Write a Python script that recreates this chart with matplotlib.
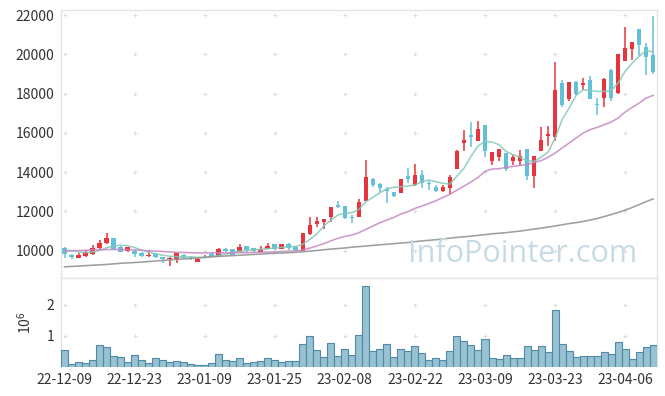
import numpy as np
import matplotlib
matplotlib.use("Agg")
import matplotlib.pyplot as plt

plt.rcParams['font.family'] = ['Noto Sans CJK KR', 'DejaVu Sans']

# 일봉 데이터 (2022-12-09 ~ 2023-04-12)
opens = [10154, 9781, 9645, 9747, 9815, 10120, 10375, 10663, 10205, 9985,
         10002, 9900, 9747, 9815, 9696, 9560, 9560, 9781, 9696, 9442,
         9662, 9832, 9747, 10069, 10086, 9951, 10239, 10120, 9951, 10069,
         10341, 10086, 10341, 10205, 9985, 10849, 11375, 11477, 11731, 12325,
         12274, 11731, 11731, 12546, 13632, 13395, 13157, 12970, 12953, 13802,
         13344, 13836, 13429, 13242, 13055, 13174, 14158, 15498, 15889, 15600,
         16398, 14582, 14786, 14955, 14582, 14582, 15159, 13818, 15091, 15855,
         15804, 18519, 17738, 18587, 18417, 18671, 17484, 17772, 19181, 18027,
         19673, 20284, 21302, 20352, 19978]
highs = [10205, 9815, 9866, 10036, 10273, 10545, 10918, 10663, 10239, 10205,
         10036, 9951, 10036, 9866, 9696, 9662, 9900, 9815, 9747, 9645,
         9781, 9951, 10154, 10154, 10086, 10341, 10256, 10154, 10239, 10409,
         10341, 10341, 10375, 10256, 10900, 11697, 11731, 11613, 12240, 12546,
         12274, 11816, 12648, 14616, 13683, 13429, 13259, 13004, 13649, 14192,
         14413, 14107, 13564, 13344, 13344, 13853, 15126, 16126, 16567, 16584,
         16398, 15023, 15176, 14955, 14888, 15108, 15159, 14836, 16279, 16330,
         19588, 18706, 18587, 18621, 18790, 18875, 17772, 18790, 19265, 20029,
         21370, 20606, 21302, 20572, 21930]
lows = [9611, 9577, 9645, 9696, 9781, 10036, 10324, 10069, 9917, 9951,
        9662, 9662, 9696, 9611, 9359, 9238, 9390, 9611, 9527, 9442,
        9611, 9662, 9696, 9951, 9781, 9917, 9951, 9951, 9951, 10069,
        10036, 10086, 10036, 10002, 9985, 10798, 11222, 11087, 11477, 12156,
        11595, 11392, 11697, 12546, 13259, 13004, 12444, 12750, 12920, 13429,
        13310, 13174, 13089, 13004, 13004, 12885, 14158, 15092, 15261, 15600,
        14768, 14378, 14548, 14039, 14378, 14293, 13580, 13190, 15091, 15312,
        15566, 17314, 17603, 17942, 18197, 17738, 16924, 17331, 17603, 17976,
        19673, 19724, 19893, 18960, 19011]
closes = [9815, 9696, 9781, 9951, 10154, 10409, 10663, 10069, 9951, 10171,
          9832, 9747, 9781, 9696, 9560, 9611, 9900, 9645, 9611, 9594,
          9696, 9662, 10086, 9985, 9781, 10171, 10036, 9985, 10069, 10239,
          10086, 10341, 10120, 10036, 10884, 11307, 11511, 11613, 12240, 12207,
          11646, 11646, 12478, 13734, 13344, 13208, 13055, 12784, 13649, 13666,
          13836, 13429, 13378, 13055, 13242, 13734, 15075, 15617, 15770, 16194,
          15091, 15023, 15176, 14175, 14768, 14802, 13818, 14836, 15617, 15957,
          18179, 17433, 18587, 17993, 18536, 17738, 17433, 18740, 17772, 20029,
          20318, 20606, 20487, 19860, 19096]
volumes = [540000, 90000, 150000, 120000, 220000, 700000, 630000, 340000, 310000, 150000,
           380000, 220000, 120000, 280000, 220000, 150000, 180000, 150000, 90000, 50000,
           50000, 120000, 410000, 220000, 190000, 280000, 120000, 150000, 190000, 280000,
           230000, 160000, 190000, 190000, 730000, 990000, 540000, 310000, 760000, 340000,
           570000, 380000, 1020000, 2600000, 510000, 570000, 730000, 310000, 570000, 510000,
           670000, 440000, 220000, 280000, 220000, 510000, 990000, 830000, 700000, 540000,
           890000, 280000, 250000, 380000, 280000, 280000, 670000, 540000, 670000, 470000,
           1830000, 730000, 510000, 310000, 340000, 340000, 340000, 470000, 410000, 800000,
           570000, 250000, 470000, 630000, 700000]

ma5 = [10030, 9990, 9940, 9910, 9930, 10010, 10150, 10240, 10280, 10260,
       10160, 10030, 9930, 9850, 9770, 9720, 9700, 9680, 9680, 9660,
       9670, 9700, 9760, 9820, 9910, 9980, 10020, 10050, 10060, 10100,
       10140, 10170, 10210, 10210, 10330, 10577, 10849, 11256, 11562, 11816,
       11901, 11935, 12105, 12495, 12716, 12953, 13157, 13225, 13259, 13293,
       13344, 13513, 13598, 13513, 13429, 13395, 13802, 14200, 14800, 15330,
       15566, 15532, 15396, 15057, 14887, 14752, 14582, 14548, 14752, 15023,
       15736, 16669, 17263, 17908, 18196, 18145, 18111, 18111, 18145, 18536,
       19130, 19554, 19893, 20199, 20114]
ma20 = [9990, 10000, 10010, 10020, 10040, 10050, 10060, 10060, 10060, 10050,
        10040, 10020, 10000, 9980, 9960, 9940, 9920, 9910, 9900, 9890,
        9890, 9890, 9890, 9890, 9890, 9900, 9900, 9910, 9920, 9930,
        9940, 9960, 9980, 9990, 10034, 10130, 10240, 10360, 10500, 10630,
        10730, 10798, 10917, 11087, 11256, 11426, 11562, 11697, 11867, 11986,
        12156, 12274, 12410, 12546, 12716, 12868, 13089, 13290, 13500, 13730,
        14039, 14158, 14175, 14243, 14293, 14344, 14378, 14497, 14582, 14752,
        14972, 15227, 15481, 15736, 15990, 16160, 16279, 16415, 16550, 16754,
        17060, 17297, 17518, 17772, 17908]
ma60 = [9180, 9200, 9220, 9240, 9260, 9280, 9300, 9330, 9360, 9380,
        9400, 9420, 9450, 9480, 9500, 9530, 9560, 9580, 9600, 9630,
        9660, 9690, 9710, 9730, 9750, 9770, 9790, 9810, 9830, 9850,
        9870, 9880, 9900, 9920, 9950, 9980, 10010, 10050, 10080, 10110,
        10140, 10180, 10210, 10240, 10270, 10300, 10330, 10360, 10390, 10420,
        10460, 10500, 10530, 10560, 10600, 10640, 10680, 10710, 10740, 10780,
        10820, 10860, 10890, 10920, 10960, 11000, 11050, 11100, 11150, 11200,
        11260, 11320, 11380, 11430, 11490, 11560, 11640, 11740, 11840, 11950,
        12070, 12200, 12350, 12500, 12640]

tick_pos = [0, 10, 20, 30, 40, 50, 60, 70, 80]
tick_labels = ['22-12-09', '22-12-23', '23-01-09', '23-01-25', '23-02-08',
               '23-02-22', '23-03-09', '23-03-23', '23-04-06']

o = np.array(opens); h = np.array(highs); l = np.array(lows); c = np.array(closes)
x = np.arange(len(o))
up = c >= o

RED = '#e8343c'
BLUE = '#64c0d8'
FRAME = '#e4e4e4'
TEXT = '#333333'

fig = plt.figure(figsize=(6.65, 3.96), dpi=100)
ax = fig.add_axes([61/665, (396-277.7)/396, 595.7/665, 267.4/396])
axv = fig.add_axes([61/665, (396-367)/396, 595.7/665, 89/396], sharex=ax)

# 캔들
ax.vlines(x[up], l[up], h[up], color=RED, linewidth=1.1, zorder=2)
ax.vlines(x[~up], l[~up], h[~up], color=BLUE, linewidth=1.1, zorder=2)
body = np.maximum(np.abs(c - o), 25)
ax.bar(x[up], body[up], bottom=np.minimum(o, c)[up], width=0.65, color=RED, zorder=3)
ax.bar(x[~up], body[~up], bottom=np.minimum(o, c)[~up], width=0.65, color=BLUE, zorder=3)

# 이동평균
ax.plot(x, ma5, color='#84c9b8', linewidth=1.15, alpha=0.85, zorder=4)
ax.plot(x, ma20, color='#c587c2', linewidth=1.15, alpha=0.85, zorder=4)
ax.plot(x, ma60, color='#8e8e8e', linewidth=1.15, alpha=0.85, zorder=4)

ax.set_xlim(-0.5, 84.5)
ax.set_ylim(8626, 22240)
ax.set_yticks(range(10000, 22001, 2000))
ax.set_xticks(tick_pos)
ax.tick_params(axis='x', labelbottom=False, length=0)
ax.tick_params(axis='y', length=0, pad=5, labelsize=10, labelcolor=TEXT)

# 거래량
axv.bar(x, np.array(volumes) / 1e6, width=1.0, color='#98c1d1',
        edgecolor='#4f8aa6', linewidth=0.8, zorder=3)
axv.set_ylim(0, 2.87)
axv.set_yticks([1, 2])
axv.set_ylabel('$\\mathregular{10^6}$', fontsize=10, color=TEXT, labelpad=9)
axv.set_xticks(tick_pos)
axv.set_xticklabels(tick_labels)
axv.tick_params(axis='x', length=0, pad=4, labelsize=10, labelcolor=TEXT)
axv.tick_params(axis='y', length=0, pad=5, labelsize=10, labelcolor=TEXT)

for a in (ax, axv):
    for s in a.spines.values():
        s.set_color(FRAME)
        s.set_linewidth(1.0)
    gx, gy = np.meshgrid(a.get_xticks(), a.get_yticks())
    a.scatter(gx.ravel(), gy.ravel(), marker='+', s=10, color='#dedede',
              linewidths=0.8, zorder=1)
axv.spines['bottom'].set_visible(False)

fig.text(637/665, 1 - 262/396, 'InfoPointer.com', ha='right', va='baseline',
         fontsize=22, color='#c6dbe5', family=['Open Sans', 'DejaVu Sans'], zorder=0)

fig.savefig('out.png', dpi=100)
